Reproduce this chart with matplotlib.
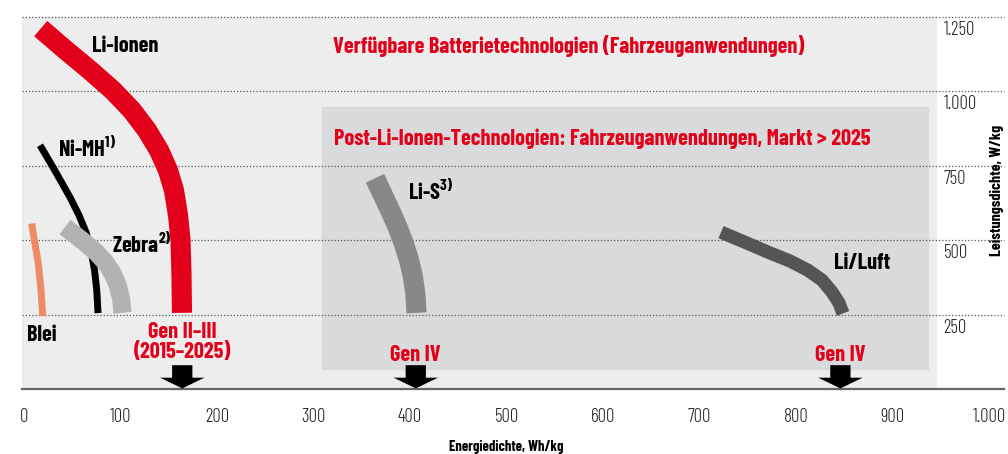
import matplotlib
matplotlib.use('Agg')
import matplotlib.pyplot as plt

FONT = ['Barlow Condensed', 'Roboto Condensed', 'DejaVu Sans']
plt.rcParams['font.family'] = FONT
plt.rcParams['mathtext.fontset'] = 'custom'
plt.rcParams['mathtext.bf'] = 'Barlow Condensed:bold'
plt.rcParams['mathtext.rm'] = 'Barlow Condensed'

# --- Daten (Energiedichte Wh/kg, Leistungsdichte W/kg) ---
li_ionen_x = [17.3, 43.5, 68.4, 92.2, 111.9, 127.5, 139.9, 149.2, 155.4, 159.6, 162.2, 163.2, 163.7]
li_ionen_y = [1211, 1138, 1071, 1003, 936, 869, 802, 735, 668, 584, 500, 383, 256]

ni_mh_x = [16.6, 28.8, 38.3, 47.7, 57.0, 64.2, 69.4, 73.1, 75.4, 76.7]
ni_mh_y = [819, 752, 698, 644, 584, 527, 466, 399, 332, 255]

blei_x = [7.9, 14.8, 17.6, 19.4]
blei_y = [556, 422, 332, 245]

zebra_x = [42.5, 60.1, 74.6, 85.0, 92.2, 97.4, 100.5, 102.1]
zebra_y = [544, 500, 460, 423, 386, 346, 305, 256]

li_s_x = [363.7, 372.0, 380.3, 387.6, 393.8, 399.0, 403.1, 405.7, 406.7]
li_s_y = [708, 651, 594, 540, 487, 433, 376, 316, 256]

li_luft_x = [722.3, 747.2, 770.9, 793.8, 812.4, 826.9, 837.3, 844.6, 848.7]
li_luft_y = [527, 493, 460, 430, 399, 366, 326, 289, 254]

pfeil_x = [164, 406, 846]          # Generationen-Pfeile

x_ticks = [0, 100, 200, 300, 400, 500, 600, 700, 800, 900, 1000]
x_labels = ['0', '100', '200', '300', '400', '500', '600', '700', '800', '900', '1.000']
y_ticks = [250, 500, 750, 1000, 1250]
y_labels = ['250', '500', '750', '1.000', '1.250']

ROT = '#e2001a'

fig = plt.figure(figsize=(10.08, 4.54), dpi=100)
ax = fig.add_axes([24/1008, 65/454, 965/1008, 372/454])
ax.set_xlim(0, 1000)
ax.set_ylim(0, 1250)
for s in ax.spines.values():
    s.set_visible(False)

# Hintergruende
ax.add_patch(plt.Rectangle((-2, 0), 947, 1250, color='#ecedec', zorder=0, clip_on=False))
ax.add_patch(plt.Rectangle((309, 67), 628, 879, color='#d9dadc', zorder=1, clip_on=False))

# Gitterlinien
for v in y_ticks:
    ax.plot([-2, 1016], [v, v], color='#555555', lw=0.9, ls=(0, (1, 1.6)), zorder=2, clip_on=False)
ax.plot([-2, 1016], [0, 0], color='#666666', lw=1.6, zorder=2, clip_on=False)

# Kurven
kw = dict(solid_capstyle='butt', solid_joinstyle='round', zorder=3, clip_on=False)
ax.plot(blei_x, blei_y, color='#f08a64', lw=5, **kw)
ax.plot(ni_mh_x, ni_mh_y, color='#000000', lw=5, **kw)
ax.plot(zebra_x, zebra_y, color='#b1b2b3', lw=13, **kw)
ax.plot(li_ionen_x, li_ionen_y, color=ROT, lw=14.5, **kw)
ax.plot(li_s_x, li_s_y, color='#878889', lw=14.5, **kw)
ax.plot(li_luft_x, li_luft_y, color='#555557', lw=9.5, **kw)

# Pfeile
for px in pfeil_x:
    ax.arrow(px, 80, 0, -78, width=21, head_width=46, head_length=36,
             length_includes_head=True, color='k', lw=0, zorder=4, clip_on=False)

# Beschriftungen
lab = dict(fontsize=16, fontweight='bold', va='center', zorder=5)
ax.text(70.5, 1151, 'Li-Ionen', color='k', **lab)
ax.text(35, 812, r'Ni-MH$^{\mathbf{1)}}$', color='k', **lab)
ax.text(91, 490, r'Zebra$^{\mathbf{2)}}$', color='k', **lab)
ax.text(3, 181, 'Blei', color='k', **lab)
ax.text(398, 668, r'Li-S$^{\mathbf{3)}}$', color='k', **lab)
ax.text(839, 423, 'Li/Luft', color='k', **lab)
ax.text(320, 1151, 'Verfügbare Batterietechnologien (Fahrzeuganwendungen)', color=ROT, **lab)
ax.text(321, 842, 'Post-Li-Ionen-Technologien: Fahrzeuganwendungen, Markt > 2025', color=ROT, **lab)
ax.text(164, 158, 'Gen II–III\n(2015–2025)', color=ROT, ha='center', linespacing=1.05, **lab)
ax.text(406, 115, 'Gen IV', color=ROT, ha='center', **lab)
ax.text(846, 115, 'Gen IV', color=ROT, ha='center', **lab)

# Achsen
ax.set_xticks(x_ticks, x_labels)
ax.tick_params(axis='x', length=0, pad=14, labelsize=13.5, colors='#222222')
for t in ax.get_xticklabels():
    t.set_fontweight(300)
ax.set_yticks([])
for v, t in zip(y_ticks, y_labels):
    ax.text(953, v - 44, t, fontsize=13.5, fontweight=300, color='#222222', va='center', ha='left')
ax.text(1008, 668, 'Leistungsdichte, W/kg', rotation=90, fontsize=11.5, fontweight='bold',
        ha='center', va='center', clip_on=False)
ax.set_xlabel('Energiedichte, Wh/kg', fontsize=10.5, fontweight='bold', labelpad=10)

fig.savefig('out.png', dpi=100)
